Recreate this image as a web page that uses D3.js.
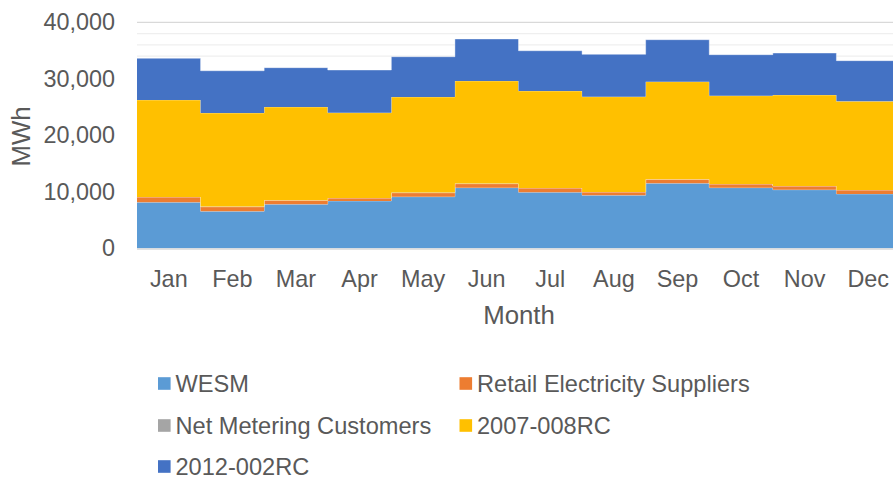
<!DOCTYPE html>
<html>
<head>
<meta charset="utf-8">
<script src="https://cdn.jsdelivr.net/npm/d3@7"></script>
<style>
  html, body { margin: 0; padding: 0; background: #fff; overflow: hidden; }
  svg { display: block; }
  text { font-family: "Liberation Sans", Arial, sans-serif; fill: #595959; }
</style>
</head>
<body>
<svg id="chart" width="893" height="479"></svg>
<script>
const months = ["Jan","Feb","Mar","Apr","May","Jun","Jul","Aug","Sep","Oct","Nov","Dec"];
const seriesNames = ["WESM","Retail Electricity Suppliers","Net Metering Customers","2007-008RC","2012-002RC"];
const wesm   = [8140, 6550, 7790, 8370, 9130, 10730, 9910, 9380, 11500, 10730, 10370, 9610];
const retail = [940, 810, 710, 530, 710, 710, 760, 580, 710, 650, 650, 710];
const netMetering = [20, 20, 20, 20, 20, 20, 20, 20, 20, 20, 20, 20];
const rc2007 = [17150, 16560, 16490, 15080, 16920, 18160, 17150, 16850, 17260, 15610, 16090, 15680];
const rc2012 = [7380, 7490, 6960, 7560, 7130, 7430, 7130, 7500, 7430, 7260, 7430, 7190];
const yTicks = [0, 10000, 20000, 30000, 40000];
const yMinorTicks = [34000, 36000, 38000];
const colors = ["#5B9BD5", "#ED7D31", "#A5A5A5", "#FFC000", "#4472C4"];

const seriesValues = [wesm, retail, netMetering, rc2007, rc2012];
const table = months.map((m, i) => {
  const row = { month: m };
  seriesNames.forEach((s, k) => row[s] = seriesValues[k][i]);
  return row;
});

const svg = d3.select("#chart");
const plotLeft = 137, plotRight = 900, plotTop = 22.3, plotBottom = 248.3;

const x = d3.scaleBand().domain(months).range([plotLeft, plotRight]).padding(0);
const y = d3.scaleLinear().domain([0, 40000]).range([plotBottom, plotTop]);

// gridlines
svg.append("g").selectAll("line").data(yMinorTicks).join("line")
  .attr("x1", plotLeft).attr("x2", 893)
  .attr("y1", d => y(d)).attr("y2", d => y(d))
  .attr("stroke", "#efefef").attr("stroke-width", 1.3);
svg.append("g").selectAll("line").data(yTicks.filter(d => d > 0)).join("line")
  .attr("x1", plotLeft).attr("x2", 893)
  .attr("y1", d => y(d)).attr("y2", d => y(d))
  .attr("stroke", "#d9d9d9").attr("stroke-width", 1.3);

// stacked stepped areas (each month spans its full band)
const stack = d3.stack().keys(seriesNames);
const layers = stack(table);
function stepPoints(layer) {
  const pts = [];
  layer.forEach(d => {
    const x0 = x(d.data.month), x1 = x0 + x.bandwidth();
    pts.push({ x: x0, lo: d[0], hi: d[1] });
    pts.push({ x: x1, lo: d[0], hi: d[1] });
  });
  return pts;
}
const area = d3.area().x(p => p.x).y0(p => y(p.lo)).y1(p => y(p.hi));
const topLine = d3.line().x(p => p.x).y(p => y(p.hi));
const lgrp = svg.append("g").selectAll("g").data(layers).join("g");
lgrp.append("path")
  .attr("d", d => area(stepPoints(d)))
  .attr("fill", (d, i) => colors[i]);
lgrp.append("path")
  .attr("d", d => topLine(stepPoints(d)))
  .attr("fill", "none")
  .attr("stroke", "#ffffff").attr("stroke-opacity", 0.4).attr("stroke-width", 1);

// x axis line
svg.append("line")
  .attr("x1", plotLeft).attr("x2", 893)
  .attr("y1", plotBottom + 0.7).attr("y2", plotBottom + 0.7)
  .attr("stroke", "#d9d9d9").attr("stroke-width", 1.3);

// y tick labels
const fmt = d3.format(",");
svg.append("g").selectAll("text").data(yTicks).join("text")
  .attr("x", 115).attr("y", d => y(d))
  .attr("dy", "0.35em")
  .attr("text-anchor", "end")
  .style("font-size", "23.4px")
  .text(d => fmt(d));

// x tick labels
svg.append("g").selectAll("text").data(months).join("text")
  .attr("x", d => x(d) + x.bandwidth() / 2)
  .attr("y", 287)
  .attr("text-anchor", "middle")
  .style("font-size", "23.4px")
  .text(d => d);

// axis titles
svg.append("text")
  .attr("x", 519).attr("y", 324)
  .attr("text-anchor", "middle")
  .style("font-size", "25.8px")
  .text("Month");
svg.append("text")
  .attr("transform", "translate(29.5,136.5) rotate(-90)")
  .attr("text-anchor", "middle")
  .style("font-size", "25.8px")
  .text("MWh");

// legend
const legendPos = [[158, 383.5], [459.5, 383.5], [158, 425.5], [459.5, 425.5], [158, 466.5]];
const lg = svg.append("g").selectAll("g").data(seriesNames).join("g")
  .attr("transform", (d, i) => `translate(${legendPos[i][0]},${legendPos[i][1]})`);
lg.append("rect").attr("x", 0).attr("y", -6.3).attr("width", 12.6).attr("height", 12.6)
  .attr("fill", (d, i) => colors[i]);
lg.append("text").attr("x", 17.5).attr("y", 0).attr("dy", "0.35em")
  .style("font-size", "23.6px")
  .text(d => d);
</script>
</body>
</html>
